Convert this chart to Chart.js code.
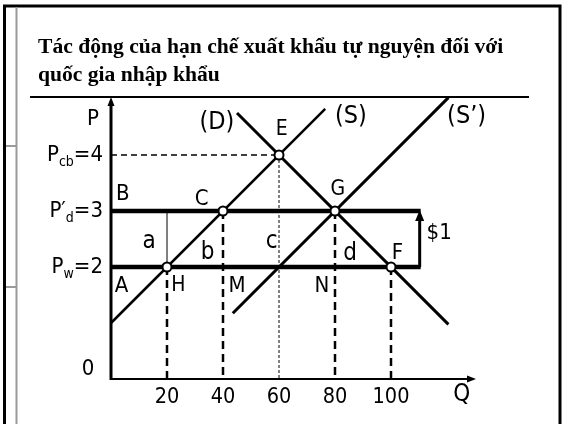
<!DOCTYPE html>
<html>
<head>
<meta charset="utf-8">
<script src="https://cdn.jsdelivr.net/npm/chart.js@4.4.1/dist/chart.umd.min.js"></script>
<style>
  html, body { margin: 0; padding: 0; background: #fff; }
  #wrap { width: 564px; height: 424px; position: relative; }
</style>
</head>
<body>
<div id="wrap"><canvas id="c" width="564" height="424"></canvas></div>
<script>
// Market data: quantity (Q) and price (P)
const quantityTicks = [20, 40, 60, 80, 100];
const priceWorld = 2;        // Pw
const priceDomestic = 3;     // P'd
const priceAutarky = 4;      // Pcb
const priceLineEnd = 110.6;  // where the two price lines stop

const demandLine = [{ x: 45, y: 4.75 }, { x: 120.5, y: 0.975 }];
const supplyLine = [{ x: 0, y: 1 }, { x: 76.5, y: 4.825 }];
const supplyShiftedLine = [{ x: 43.5, y: 1.175 }, { x: 120.5, y: 5.025 }];

// marked points H, C, E, G, F
const keyPoints = [
  { x: 20, y: 2 }, { x: 40, y: 3 }, { x: 60, y: 4 }, { x: 80, y: 3 }, { x: 100, y: 2 }
];

// drop lines to the Q axis
const dropH = [{ x: 20, y: 2 }, { x: 20, y: 0 }];
const dropC = [{ x: 40, y: 3 }, { x: 40, y: 0 }];
const dropG = [{ x: 80, y: 3 }, { x: 80, y: 0 }];
const dropF = [{ x: 100, y: 2 }, { x: 100, y: 0 }];
const dropE = [{ x: 60, y: 4 }, { x: 60, y: 0 }];
const guideE = [{ x: 0, y: 4 }, { x: 60, y: 4 }];
const splitA = [{ x: 20, y: 2 }, { x: 20, y: 3 }];

const TITLE_LINES = ['Tác động của hạn chế xuất khẩu tự nguyện đối với', 'quốc gia nhập khẩu'];

// in-chart text labels anchored at (Q, P), with font size
const areaLabels = [
  { t: 'P', q: -6.4, p: 4.64, s: 22 },
  { t: 'B', q: 4.2, p: 3.30, s: 22 },
  { t: 'C', q: 32.4, p: 3.21, s: 22 },
  { t: 'a', q: 13.6, p: 2.45, s: 24 },
  { t: 'b', q: 34.5, p: 2.255, s: 24 },
  { t: 'c', q: 57.4, p: 2.45, s: 24 },
  { t: 'd', q: 85.4, p: 2.24, s: 24 },
  { t: 'A', q: 3.8, p: 1.66, s: 22 },
  { t: 'H', q: 24.1, p: 1.66, s: 21 },
  { t: 'M', q: 45, p: 1.66, s: 22 },
  { t: 'N', q: 75.3, p: 1.66, s: 22 },
  { t: 'E', q: 61, p: 4.45, s: 21 },
  { t: 'G', q: 81, p: 3.39, s: 21 },
  { t: 'F', q: 102.3, p: 2.24, s: 22 },
  { t: '(D)', q: 37.8, p: 4.58, s: 25 },
  { t: '(S)', q: 85.7, p: 4.68, s: 25 },
  { t: '(S\u2019)', q: 127, p: 4.68, s: 25 },
  { t: '$1', q: 117.2, p: 2.6, s: 22 },
  { t: '0', q: -8.2, p: 0.18, s: 22 },
  { t: 'Q', q: 125.3, p: -0.29, s: 24 }
];

// price labels on the P axis: main text, subscript, suffix
const priceLabels = [
  { main: 'P', sub: 'cb', tail: '=' + priceAutarky, p: priceAutarky },
  { main: 'P\u2032', sub: 'd', tail: '=' + priceDomestic, p: priceDomestic },
  { main: 'P', sub: 'w', tail: '=' + priceWorld, p: priceWorld }
];

const FONT = '"DejaVu Sans Condensed", "DejaVu Sans", sans-serif';

function seg(data, width, dash) {
  return {
    type: 'line', data: data, borderColor: '#000', borderWidth: width,
    borderDash: dash || [], pointRadius: 0, fill: false, clip: false,
    tension: 0, order: 2, borderCapStyle: 'butt'
  };
}

const decorations = {
  id: 'decorations',
  beforeDraw(chart) {
    const ctx = chart.ctx;
    ctx.save();
    ctx.fillStyle = '#fff';
    ctx.fillRect(0, 0, chart.width, chart.height);
    // page frame
    ctx.strokeStyle = '#000';
    ctx.lineWidth = 3;
    ctx.beginPath();
    ctx.moveTo(4.5, 424); ctx.lineTo(4.5, 6); ctx.lineTo(560, 6); ctx.lineTo(560, 424);
    ctx.stroke();
    ctx.strokeStyle = '#9a9a9a';
    ctx.lineWidth = 2;
    ctx.beginPath();
    ctx.moveTo(16.5, 7); ctx.lineTo(16.5, 424);
    ctx.moveTo(6, 146); ctx.lineTo(16, 146);
    ctx.moveTo(6, 287); ctx.lineTo(16, 287);
    ctx.stroke();
    // title
    ctx.fillStyle = '#000';
    ctx.font = 'bold 21.6px "Liberation Serif", "Times New Roman", serif';
    ctx.textAlign = 'left';
    ctx.textBaseline = 'alphabetic';
    ctx.fillText(TITLE_LINES[0], 38, 53);
    ctx.fillText(TITLE_LINES[1], 38, 81);
    ctx.strokeStyle = '#000';
    ctx.lineWidth = 2;
    ctx.beginPath();
    ctx.moveTo(30, 97); ctx.lineTo(529, 97);
    ctx.stroke();
    ctx.restore();
  },
  afterDatasetsDraw(chart) {
    const ctx = chart.ctx;
    const xs = chart.scales.x, ys = chart.scales.y;
    const X = v => xs.getPixelForValue(v), Y = v => ys.getPixelForValue(v);
    ctx.save();
    ctx.strokeStyle = '#000';
    ctx.fillStyle = '#000';
    // axes with arrowheads
    const x0 = X(0), y0 = Y(0);
    const yTop = Y(ys.max) - 2, xEnd = X(xs.max) + 1;
    ctx.lineWidth = 3;
    ctx.beginPath(); ctx.moveTo(x0, y0 + 1); ctx.lineTo(x0, yTop + 6); ctx.stroke();
    ctx.lineWidth = 2;
    ctx.beginPath(); ctx.moveTo(x0, y0); ctx.lineTo(xEnd - 6, y0); ctx.stroke();
    ctx.beginPath(); ctx.moveTo(x0, yTop); ctx.lineTo(x0 - 3.5, yTop + 9); ctx.lineTo(x0 + 3.5, yTop + 9); ctx.closePath(); ctx.fill();
    ctx.beginPath(); ctx.moveTo(xEnd, y0); ctx.lineTo(xEnd - 9, y0 - 3.5); ctx.lineTo(xEnd - 9, y0 + 3.5); ctx.closePath(); ctx.fill();
    // $1 arrow between the two price lines
    const ax = X(priceLineEnd) - 1;
    ctx.lineWidth = 3;
    ctx.beginPath(); ctx.moveTo(ax, Y(priceWorld)); ctx.lineTo(ax, Y(priceDomestic) + 8); ctx.stroke();
    ctx.beginPath(); ctx.moveTo(ax, Y(priceDomestic) - 1); ctx.lineTo(ax - 4.5, Y(priceDomestic) + 10); ctx.lineTo(ax + 4.5, Y(priceDomestic) + 10); ctx.closePath(); ctx.fill();

    // text
    ctx.textAlign = 'center';
    ctx.textBaseline = 'middle';
    areaLabels.forEach(l => {
      ctx.font = l.s + 'px ' + FONT;
      ctx.fillText(l.t, X(l.q), Y(l.p));
    });
    ctx.font = '21.5px ' + FONT;
    quantityTicks.forEach(q => ctx.fillText(String(q), X(q), Y(0) + 18));

    // price labels, right aligned near the P axis
    const right = X(0) - 8;
    priceLabels.forEach(l => {
      const cy = Y(l.p);
      ctx.font = '22px ' + FONT;
      const wMain = ctx.measureText(l.main).width;
      const wTail = ctx.measureText(l.tail).width;
      ctx.font = '14px ' + FONT;
      const wSub = ctx.measureText(l.sub).width;
      let x = right - wMain - wSub - wTail;
      ctx.textAlign = 'left';
      ctx.font = '22px ' + FONT;
      ctx.fillText(l.main, x, cy);
      x += wMain;
      ctx.font = '14px ' + FONT;
      ctx.fillText(l.sub, x, cy + 7);
      x += wSub;
      ctx.font = '22px ' + FONT;
      ctx.fillText(l.tail, x, cy);
    });
    ctx.restore();
  }
};

new Chart(document.getElementById('c'), {
  type: 'scatter',
  data: {
    datasets: [
      {
        type: 'scatter', data: keyPoints, pointRadius: 4.5, pointHoverRadius: 4.5,
        pointBackgroundColor: '#fff', pointBorderColor: '#000', pointBorderWidth: 2,
        showLine: false, clip: false, order: 0
      },
      seg([{ x: 0, y: priceDomestic }, { x: priceLineEnd, y: priceDomestic }], 4.5),
      seg([{ x: 0, y: priceWorld }, { x: priceLineEnd, y: priceWorld }], 4.5),
      seg(supplyLine, 2.5),
      seg(demandLine, 3),
      seg(supplyShiftedLine, 3),
      seg(splitA, 1),
      seg(dropH, 2.5, [8, 5]),
      seg(dropC, 2.5, [8, 5]),
      seg(dropG, 2.5, [8, 5]),
      seg(dropF, 2.5, [8, 5]),
      seg(dropE, 1, [3, 2]),
      seg(guideE, 1.5, [6, 4])
    ]
  },
  options: {
    responsive: false,
    animation: false,
    events: [],
    layout: { padding: { left: 111, right: 89, top: 99, bottom: 45 } },
    scales: {
      x: { type: 'linear', min: 0, max: 130, display: false },
      y: { type: 'linear', min: 0, max: 5, display: false }
    },
    plugins: { legend: { display: false }, tooltip: { enabled: false }, title: { display: false } }
  },
  plugins: [decorations]
});
</script>
</body>
</html>
